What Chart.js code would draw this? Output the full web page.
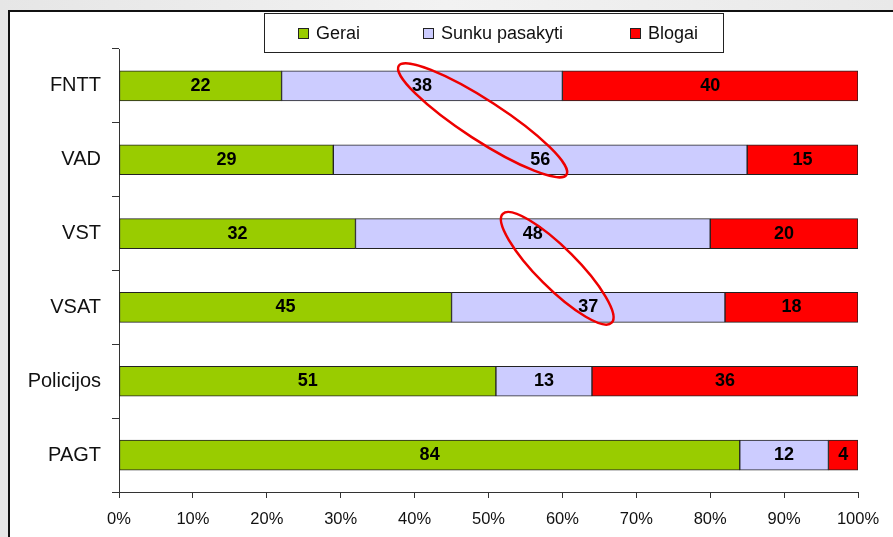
<!DOCTYPE html>
<html>
<head>
<meta charset="utf-8">
<script src="https://cdn.jsdelivr.net/npm/chart.js@4"></script>
<style>
  html, body { margin: 0; padding: 0; background: #ececec; }
  #wrap { width: 893px; height: 537px; }
</style>
</head>
<body>
<div id="wrap"><canvas id="chart" width="893" height="537"></canvas></div>
<script>
// duomenys
const categories = ['FNTT', 'VAD', 'VST', 'VSAT', 'Policijos', 'PAGT'];
const gerai = [22, 29, 32, 45, 51, 84];
const sunku = [38, 56, 48, 37, 13, 12];
const blogai = [40, 15, 20, 18, 36, 4];
const xTicks = [0, 10, 20, 30, 40, 50, 60, 70, 80, 90, 100];

// ovalai (x reikšmė %, y kategorijos indeksas)
const ellipses = [
    { x: 49.2, y: 0.466, rx: 100, ry: 20, angle: 33 },
    { x: 59.3, y: 2.47, rx: 77, ry: 20, angle: 45 }
];

const FONT = '"Liberation Sans", Arial, sans-serif';

// rėmelis ir fonas
const framePlugin = {
    id: 'frame',
    beforeDraw(chart) {
        const ctx = chart.ctx;
        ctx.save();
        const g = ctx.createLinearGradient(0, 0, 893, 0);
        g.addColorStop(0, '#e6e6e6');
        g.addColorStop(0.5, '#f2f2f2');
        g.addColorStop(1, '#e9e9e9');
        ctx.fillStyle = g;
        ctx.fillRect(0, 0, chart.width, chart.height);
        ctx.fillStyle = '#ffffff';
        ctx.fillRect(9, 11, chart.width - 9, chart.height - 11);
        ctx.strokeStyle = '#111';
        ctx.lineWidth = 2;
        ctx.beginPath();
        ctx.moveTo(9, chart.height);
        ctx.lineTo(9, 11);
        ctx.lineTo(chart.width, 11);
        ctx.stroke();
        ctx.restore();
    }
};

// legenda
const legendPlugin = {
    id: 'boxLegend',
    afterDraw(chart) {
        const ctx = chart.ctx;
        ctx.save();
        ctx.fillStyle = '#fff';
        ctx.fillRect(264, 13, 460, 40);
        ctx.strokeStyle = '#222';
        ctx.lineWidth = 1;
        ctx.strokeRect(264.5, 13.5, 459, 39);
        const xs = [298, 423, 630];
        ctx.font = '18px ' + FONT;
        ctx.textBaseline = 'middle';
        chart.data.datasets.forEach((ds, i) => {
            ctx.fillStyle = ds.backgroundColor;
            ctx.fillRect(xs[i], 28, 11, 11);
            ctx.strokeStyle = '#222';
            ctx.strokeRect(xs[i] + 0.5, 28.5, 10, 10);
            ctx.fillStyle = '#111';
            ctx.textAlign = 'left';
            ctx.fillText(ds.label, xs[i] + 18, 34);
        });
        ctx.restore();
    }
};

// reikšmės ant juostų
const labelPlugin = {
    id: 'barLabels',
    afterDatasetsDraw(chart) {
        const ctx = chart.ctx;
        ctx.save();
        ctx.font = 'bold 18px ' + FONT;
        ctx.fillStyle = '#000';
        ctx.textAlign = 'center';
        ctx.textBaseline = 'middle';
        chart.data.datasets.forEach((ds, i) => {
            chart.getDatasetMeta(i).data.forEach((bar, j) => {
                const cx = (bar.x + bar.base) / 2;
                ctx.fillText(String(ds.data[j]), cx, bar.y);
            });
        });
        ctx.restore();
    }
};

// raudoni ovalai
const ellipsePlugin = {
    id: 'ellipses',
    afterDraw(chart) {
        const ctx = chart.ctx;
        const xs = chart.scales.x, ys = chart.scales.y;
        ctx.save();
        ctx.strokeStyle = '#ee0000';
        ctx.lineWidth = 2.5;
        ellipses.forEach(e => {
            const cx = xs.getPixelForValue(e.x);
            const cy = ys.getPixelForValue(e.y);
            ctx.beginPath();
            ctx.ellipse(cx, cy, e.rx, e.ry, e.angle * Math.PI / 180, 0, Math.PI * 2);
            ctx.stroke();
        });
        ctx.restore();
    }
};

const ctx = document.getElementById('chart').getContext('2d');
new Chart(ctx, {
    type: 'bar',
    data: {
        labels: categories,
        datasets: [
            { label: 'Gerai', data: gerai, backgroundColor: '#99cc00' },
            { label: 'Sunku pasakyti', data: sunku, backgroundColor: '#ccccff' },
            { label: 'Blogai', data: blogai, backgroundColor: '#ff0000' }
        ].map(d => Object.assign(d, {
            borderColor: '#222',
            borderWidth: 1,
            borderSkipped: false,
            barThickness: 30
        }))
    },
    options: {
        indexAxis: 'y',
        responsive: false,
        animation: false,
        layout: { padding: { top: 49, right: 35, left: 0, bottom: 0 } },
        plugins: {
            legend: { display: false },
            tooltip: { enabled: false }
        },
        scales: {
            x: {
                stacked: true,
                min: 0,
                max: 100,
                afterBuildTicks(scale) {
                    scale.ticks = xTicks.map(v => ({ value: v }));
                },
                afterFit(scale) { scale.height = 45; },
                grid: {
                    drawOnChartArea: false,
                    tickLength: 6,
                    color: '#333'
                },
                border: { color: '#333', width: 1 },
                ticks: {
                    color: '#111',
                    padding: 12,
                    maxRotation: 0,
                    font: { family: FONT, size: 16.5 },
                    callback: v => v + '%'
                }
            },
            y: {
                stacked: true,
                afterFit(scale) { scale.width = 119; },
                grid: {
                    offset: true,
                    drawOnChartArea: false,
                    tickLength: 7,
                    color: '#333'
                },
                border: { color: '#333', width: 1 },
                ticks: {
                    color: '#111',
                    padding: 11,
                    font: { family: FONT, size: 20 }
                }
            }
        }
    },
    plugins: [framePlugin, legendPlugin, labelPlugin, ellipsePlugin]
});
</script>
</body>
</html>
